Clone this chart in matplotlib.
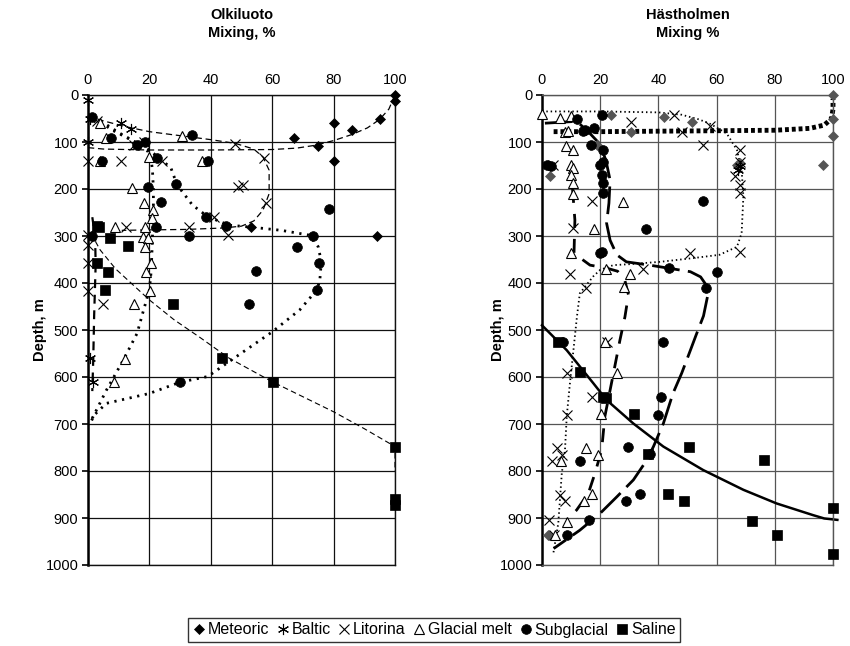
import numpy as np
import matplotlib
matplotlib.use("Agg")
import matplotlib.pyplot as plt
from matplotlib.lines import Line2D

plt.rcParams['font.family'] = ['Liberation Sans', 'DejaVu Sans']

# ---------------- Olkiluoto: sample points (mixing %, depth m) ----------------
olk_meteoric_mix = [100, 100, 95, 86, 80, 67, 75, 80, 53, 94]
olk_meteoric_depth = [0, 12, 50, 74, 60, 91, 108, 140, 281, 300]

olk_baltic_mix = [0, 0.5, 0, 10.7, 14, 0.5, 1.5]
olk_baltic_depth = [10, 52, 100, 59, 73, 560, 611]

olk_litorina_mix = [3, 0, 10.7, 24, 18.3, 15, 12.4, 33, 0, 45.5, 0, 0, 0, 5,
                    48, 57.3, 49, 50.6, 58, 41]
olk_litorina_depth = [55, 140, 140, 140, 100, 106, 280, 280, 298, 298, 319, 357, 416, 445,
                      104, 133, 195, 191, 229, 259]

olk_glacial_mix = [3.9, 6, 30.5, 37, 3.9, 20, 14.3, 18.2, 21.3, 20.7, 8.8, 18.6, 18, 19.6,
                   18.6, 20.5, 19, 20.2, 15, 12, 8.5]
olk_glacial_depth = [60, 92, 87, 140, 140, 132, 197, 229, 245, 261, 280, 280, 303, 305,
                     323, 358, 376, 416, 445, 562, 611]

olk_subglacial_mix = [1.2, 7.5, 16, 18.6, 33.8, 4.5, 39, 22.4, 28.7, 19.6, 23.8, 38.3, 22,
                      45, 33, 1.2, 73.4, 68, 78.6, 75.3, 54.6, 74.5, 52.4, 30]
olk_subglacial_depth = [46, 92, 106, 101, 85, 140, 140, 133, 190, 195, 228, 259, 280,
                        278, 299, 300, 301, 323, 243, 357, 374, 415, 445, 611]

olk_saline_mix = [2.8, 3.7, 7.2, 13.1, 2.8, 6.4, 5.5, 27.8, 43.5, 60.4, 100, 100, 100]
olk_saline_depth = [279, 281, 304, 321, 357, 376, 415, 445, 560, 610, 748, 860, 872]

# Olkiluoto trend curves
olk_meteoric_curve_mix = [0, 5, 20, 40, 60, 68, 74, 80, 86, 91, 95, 98, 100]
olk_meteoric_curve_depth = [112, 115, 117, 117, 116, 113, 107, 97, 84, 70, 52, 30, 0]

olk_litorina_curve_mix = [0, 5, 12, 20, 27, 33, 40, 48, 54, 57, 59, 59, 57, 54, 50, 44, 32, 20, 11]
olk_litorina_curve_depth = [45, 55, 67, 78, 84, 89, 95, 103, 115, 132, 160, 210, 245, 268, 279,
                            283, 286, 287, 288]

olk_baltic_curve_mix = [1.4, 2.3, 2.5, 2.0, 1.7, 1.4]
olk_baltic_curve_depth = [260, 300, 360, 470, 565, 630]

olk_glacial_curve_mix = [4, 8, 13, 17, 19.5, 20.5, 21, 21.3, 21.3, 21, 20.8, 20.5, 20, 18,
                         16, 11.5, 6, 1.7, 0.6]
olk_glacial_curve_depth = [58, 75, 92, 107, 120, 135, 160, 200, 260, 300, 340, 380, 415, 460,
                           507, 564, 628, 684, 695]

olk_subglacial_curve_mix = [2, 10, 20, 27, 29, 34, 39, 46, 53, 63, 72, 75, 76, 75.5, 74.5, 69,
                            60, 50, 39, 30, 20, 6, 2, 1]
olk_subglacial_curve_depth = [46, 80, 117, 155, 191, 234, 259, 277, 281, 288, 298, 323, 355,
                              395, 415, 457, 504, 549, 599, 611, 635, 656, 681, 695]

olk_saline_curve_mix = [1, 4, 9, 14, 20, 28, 36.5, 46, 53, 60, 70, 80, 90, 100, 100]
olk_saline_curve_depth = [295, 330, 370, 400, 436, 478, 516, 560, 585, 610, 642, 674, 710,
                          748, 800]

# ---------------- Hästholmen: sample points ----------------
hst_meteoric_mix = [100, 100, 100, 96.5, 51.4, 42, 67, 68, 23.7, 30.6, 2.7, 18.8, 2]
hst_meteoric_depth = [0, 52, 87, 149, 57, 47, 149, 145, 43, 78, 172, 106, 936]

hst_baltic_mix = [68, 67.5]
hst_baltic_depth = [152, 160]

hst_litorina_mix = [3.9, 30.6, 17.1, 10.8, 45.4, 48, 55.4, 57.7, 68, 68, 66.3, 68, 68, 68,
                    50.9, 34.8, 9.6, 15.1, 22.2, 8.5, 17.1, 8.5, 5, 3.3, 6.8, 6.2, 7.9,
                    2.5, 4.1]
hst_litorina_depth = [149, 57, 225, 284, 43, 78, 106, 67, 117, 142, 172, 191, 209, 333,
                      337, 370, 380, 410, 525, 591, 642, 681, 750, 778, 766, 851, 863,
                      904, 936]

hst_glacial_mix = [0, 6.2, 10, 7.9, 9, 8.2, 10.8, 9.9, 10.5, 10, 10.5, 10.8, 17.9, 27.7, 10,
                   22, 30.2, 28.2, 21.6, 25.9, 20.2, 15.1, 6.5, 19.3, 17.1, 14.4, 8.5, 4.5]
hst_glacial_depth = [40, 48, 45, 78, 76, 108, 118, 149, 155, 170, 188, 211, 285, 227, 337,
                     371, 380, 409, 525, 591, 679, 750, 778, 766, 849, 863, 908, 936]

hst_subglacial_mix = [11.9, 14.8, 18, 14.2, 20.5, 16.7, 21.1, 20.8, 19.9, 20.5, 20.8, 21,
                      1.6, 35.6, 20.5, 55.2, 43.7, 60, 56.5, 20, 41.7, 7.3, 40.9, 40, 29.7,
                      13, 37.1, 28.9, 33.7, 16.3, 8.5, 3]
hst_subglacial_depth = [50, 74, 71, 76, 43, 106, 117, 142, 149, 170, 187, 209, 149, 285,
                        335, 225, 369, 376, 410, 337, 525, 525, 642, 681, 748, 778, 764,
                        863, 849, 904, 936, 150]

hst_saline_mix = [13, 21.1, 22, 31.7, 50.6, 36.3, 43.4, 48.9, 76.4, 72.3, 80.7, 100, 100, 5.5]
hst_saline_depth = [589, 642, 645, 679, 748, 764, 849, 863, 777, 906, 936, 879, 977, 525]

# Hästholmen trend curves
hst_meteoric_curve_mix = [4, 20, 40, 60, 80, 92, 97, 99.5, 100, 100]
hst_meteoric_curve_depth = [78, 78, 77, 76, 75, 71, 64, 50, 30, 8]

hst_litorina_curve_mix = [0, 20, 40, 48, 54, 58, 63.5, 67, 68.6, 69.2, 68.6, 67, 61, 52, 40.5,
                          30, 24.5, 20, 17.6, 13, 12, 10.8, 9.6, 8.5, 7.9, 6.8, 5.6, 3.9]
hst_litorina_curve_depth = [35, 35, 37, 42, 52, 62, 82, 117, 160, 216, 294, 323, 340, 347,
                            355, 360, 362, 372, 386, 422, 472, 543, 613, 684, 755, 805, 911,
                            975]

hst_glacial_curve_mix = [10.5, 11.3, 11, 16.5, 22, 26, 28.5, 29.7, 28.5, 26.8, 25, 23.4, 21.6,
                         20.5, 18.2, 15.9, 11.9, 8.5]
hst_glacial_curve_depth = [200, 266, 337, 362, 368, 375, 395, 425, 472, 521, 578, 628, 684,
                           755, 805, 848, 883, 904]

hst_subglacial_curve_mix = [1, 12, 16.5, 20, 22, 23.4, 23, 22.2, 23.4, 25.7, 29, 37, 44, 51,
                            54.5, 56.5, 57, 55.5, 53, 51, 48, 45, 41.7, 38.3, 36, 31.4, 25.7,
                            20, 13, 4]
hst_subglacial_curve_depth = [60, 56, 82, 105, 140, 181, 230, 273, 309, 340, 355, 362, 369,
                              376, 387, 405, 425, 470, 510, 543, 592, 635, 699, 748, 777, 819,
                              855, 890, 926, 965]

hst_saline_curve_mix = [0, 8.5, 17.6, 22.2, 31.4, 41.7, 55.4, 69.2, 80.6, 93.2, 97, 101.5]
hst_saline_curve_depth = [490, 543, 613, 649, 699, 748, 798, 840, 869, 894, 901, 904]

series_names = ['Meteoric', 'Baltic', 'Litorina', 'Glacial melt', 'Subglacial', 'Saline']

# marker styles per end-member
mk = {
    'Meteoric': dict(marker='D', ms=5.5, mfc='black', mec='black', mew=0.5),
    'Baltic': dict(marker=(6, 2, 0), ms=8, mfc='none', mec='black', mew=0.8),
    'Litorina': dict(marker='x', ms=6.5, mfc='none', mec='black', mew=0.8),
    'Glacial melt': dict(marker='^', ms=7, mfc='white', mec='black', mew=0.8),
    'Subglacial': dict(marker='o', ms=7, mfc='black', mec='black', mew=0.5),
    'Saline': dict(marker='s', ms=6.5, mfc='black', mec='black', mew=0.5),
}

fig = plt.figure(figsize=(8.5, 6.46), dpi=100)
ax1 = fig.add_axes([88 / 850, 1 - 565 / 646, 307 / 850, 470 / 646])
ax2 = fig.add_axes([542 / 850, 1 - 565 / 646, 291 / 850, 470 / 646])


def style_axes(ax, gridcolor):
    ax.set_xlim(0, 100)
    ax.set_ylim(1000, 0)
    ax.set_xticks(np.arange(0, 101, 20))
    ax.set_yticks(np.arange(0, 1001, 100))
    ax.xaxis.tick_top()
    ax.tick_params(axis='x', length=0, pad=6, labelsize=10.5)
    ax.tick_params(axis='y', length=4, width=1.2, pad=3, labelsize=10.5, direction='out')
    ax.grid(True, color=gridcolor, lw=0.9)
    ax.set_axisbelow(True)
    for s in ['top', 'right', 'bottom']:
        ax.spines[s].set_linewidth(1.0)
        ax.spines[s].set_color(gridcolor)
    ax.spines['left'].set_linewidth(1.8)
    ax.spines['left'].set_color('black')


style_axes(ax1, '#111111')
style_axes(ax2, '#555555')

# Olkiluoto trend lines
ax1.plot(olk_meteoric_curve_mix, olk_meteoric_curve_depth, color='black', lw=0.9, dashes=(5, 3))
ax1.plot(olk_litorina_curve_mix, olk_litorina_curve_depth, color='black', lw=0.9, dashes=(5, 3))
ax1.plot(olk_baltic_curve_mix, olk_baltic_curve_depth, color='black', lw=1.6, dashes=(4, 3))
ax1.plot(olk_glacial_curve_mix, olk_glacial_curve_depth, color='black', lw=2, dashes=(0.8, 2))
ax1.plot(olk_subglacial_curve_mix, olk_subglacial_curve_depth, color='black', lw=2, dashes=(0.8, 2))
ax1.plot(olk_saline_curve_mix, olk_saline_curve_depth, color='black', lw=0.8, dashes=(5, 3))

olk_points = [
    ('Meteoric', olk_meteoric_mix, olk_meteoric_depth),
    ('Baltic', olk_baltic_mix, olk_baltic_depth),
    ('Litorina', olk_litorina_mix, olk_litorina_depth),
    ('Glacial melt', olk_glacial_mix, olk_glacial_depth),
    ('Subglacial', olk_subglacial_mix, olk_subglacial_depth),
    ('Saline', olk_saline_mix, olk_saline_depth),
]
for name, xs, ys in olk_points:
    ax1.plot(xs, ys, ls='none', clip_on=False, zorder=4, **mk[name])

# Hästholmen trend lines
ax2.plot(hst_meteoric_curve_mix, hst_meteoric_curve_depth, color='black', lw=3.5,
         dashes=(0.8, 0.6), clip_on=False)
ax2.plot(hst_litorina_curve_mix, hst_litorina_curve_depth, color='black', lw=1.3, dashes=(0.8, 1.6))
ax2.plot(hst_glacial_curve_mix, hst_glacial_curve_depth, color='black', lw=2, dashes=(5, 4))
ax2.plot(hst_subglacial_curve_mix, hst_subglacial_curve_depth, color='black', lw=2, dashes=(10, 3))
ax2.plot(hst_saline_curve_mix, hst_saline_curve_depth, color='black', lw=1.8, clip_on=False)

hst_points = [
    ('Meteoric', hst_meteoric_mix, hst_meteoric_depth),
    ('Baltic', hst_baltic_mix, hst_baltic_depth),
    ('Litorina', hst_litorina_mix, hst_litorina_depth),
    ('Glacial melt', hst_glacial_mix, hst_glacial_depth),
    ('Subglacial', hst_subglacial_mix, hst_subglacial_depth),
    ('Saline', hst_saline_mix, hst_saline_depth),
]
for name, xs, ys in hst_points:
    style = dict(mk[name])
    if name == 'Meteoric':
        style.update(mfc='#555555', mec='#555555')
    ax2.plot(xs, ys, ls='none', clip_on=False, zorder=4, **style)

# titles and axis labels
for ax, l1, l2 in [(ax1, 'Olkiluoto', 'Mixing, %'), (ax2, 'Hästholmen', 'Mixing %')]:
    ax.text(0.5, 1 + 80 / 470, l1, transform=ax.transAxes, ha='center', va='center',
            fontsize=10.5, fontweight='bold')
    ax.text(0.5, 1 + 62 / 470, l2, transform=ax.transAxes, ha='center', va='center',
            fontsize=10.5, fontweight='bold')
    ax.set_ylabel('Depth, m', fontsize=10.5, fontweight='bold')

ax1.yaxis.set_label_coords(-41 / 307, 0.5)
ax2.yaxis.set_label_coords(-37 / 291, 0.5)

# legend along the bottom
handles = [Line2D([], [], ls='none', **mk[n]) for n in series_names]
leg = fig.legend(handles, series_names, loc='center', bbox_to_anchor=(434 / 850, 1 - 630 / 646),
                 ncol=6, frameon=True, fancybox=False, edgecolor='black', fontsize=11.5,
                 handlelength=0.8, handletextpad=0.15, columnspacing=0.45, borderpad=0.3,
                 borderaxespad=0)
leg.get_frame().set_linewidth(1.0)

fig.savefig('out.png', dpi=100)
